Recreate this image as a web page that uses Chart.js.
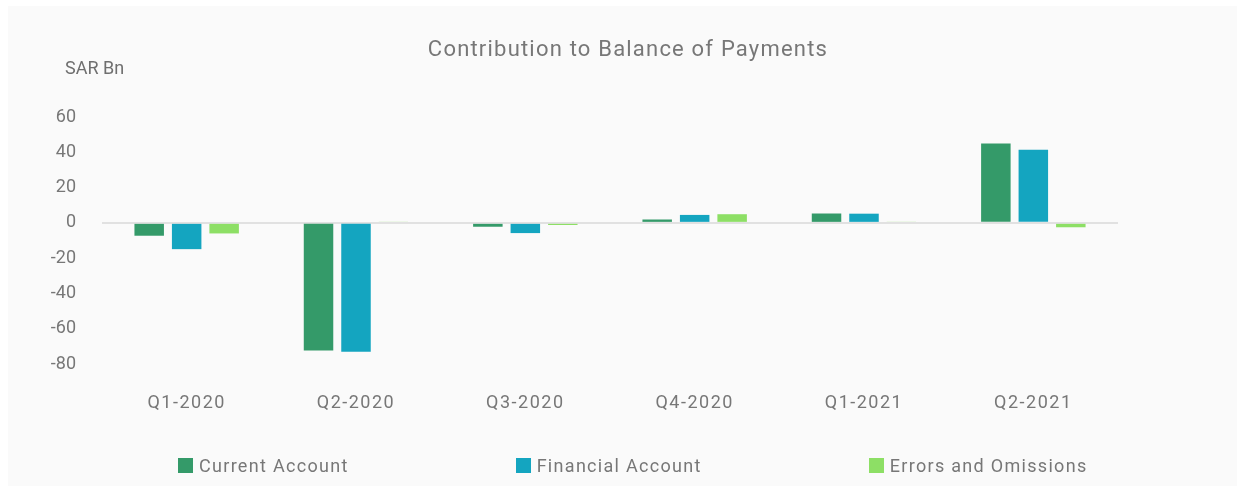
<!DOCTYPE html>
<html>
<head>
<meta charset="utf-8">
<script src="https://cdn.jsdelivr.net/npm/chart.js@4.4.0/dist/chart.umd.min.js"></script>
<style>
  html, body { margin: 0; padding: 0; background: #ffffff; }
  #wrap { position: relative; width: 1245px; height: 492px; overflow: hidden; }
  #panel { position: absolute; left: 8px; top: 6px; width: 1229px; height: 480px; background: #fafafa; }
  #c { position: absolute; left: 0; top: 0; }
  .txt { position: absolute; font-family: Roboto, "Open Sans", sans-serif; color: #777777; white-space: nowrap; }
  #title { left: 0; width: 1256px; text-align: center; top: 36px; font-size: 22px; letter-spacing: 1.2px; }
  #unit { left: 65px; top: 57px; font-size: 18px; color: #6f6f6f; }
  #legend { position: absolute; left: 178px; top: 455px; display: flex; gap: 167px; font-family: Roboto, "Open Sans", sans-serif; font-size: 18px; color: #777777; }
  .li { display: flex; align-items: center; white-space: nowrap; letter-spacing: 1.3px; }
  .sw { width: 15px; height: 15px; margin-right: 6px; }
</style>
</head>
<body>
<div id="wrap">
  <div id="panel"></div>
  <canvas id="c" width="1245" height="492"></canvas>
  <div class="txt" id="title">Contribution to Balance of Payments</div>
  <div class="txt" id="unit">SAR Bn</div>
  <div id="legend"></div>
</div>
<script>
const categories = ["Q1-2020", "Q2-2020", "Q3-2020", "Q4-2020", "Q1-2021", "Q2-2021"];
const seriesNames = ["Current Account", "Financial Account", "Errors and Omissions"];
const currentAccount = [-7.3, -72.3, -2.2, 1.9, 5.3, 45.0];
const financialAccount = [-14.9, -73.0, -5.8, 4.5, 5.2, 41.5];
const errorsOmissions = [-6.0, 0.5, -1.2, 4.9, 0.5, -2.5];
const yTicks = [60, 40, 20, 0, -20, -40, -60, -80];
const colors = ["#349a69", "#14a5c0", "#8ddf65"];

const seriesValues = [currentAccount, financialAccount, errorsOmissions];
const FONT = "Roboto, 'Open Sans', sans-serif";

const spacingPlugin = {
  id: "xLabelSpacing",
  afterUpdate(chart) {
    const s = chart.scales.x;
    if (s && !s._patched) {
      const orig = s.drawLabels.bind(s);
      s.drawLabels = function (area) {
        const ctx = this.ctx;
        ctx.save();
        ctx.letterSpacing = "1.5px";
        orig(area);
        ctx.restore();
      };
      s._patched = true;
    }
  }
};

const chart = new Chart(document.getElementById("c"), {
  type: "bar",
  data: {
    labels: categories,
    datasets: seriesNames.map((name, i) => ({
      label: name,
      data: seriesValues[i],
      backgroundColor: colors[i],
      borderWidth: 0,
      categoryPercentage: 0.664,
      barPercentage: 0.787
    }))
  },
  plugins: [spacingPlugin],
  options: {
    responsive: false,
    animation: false,
    events: [],
    layout: { padding: { left: 0, right: 127, top: 117, bottom: 78 } },
    plugins: {
      legend: { display: false },
      title: { display: false },
      tooltip: { enabled: false }
    },
    scales: {
      x: {
        grid: { display: false, drawTicks: false },
        border: { display: false },
        ticks: {
          color: "#777777",
          font: { family: FONT, size: 18 },
          padding: 29,
          maxRotation: 0
        },
        afterFit: s => { s.height = 50; }
      },
      y: {
        min: -80,
        max: 60,
        afterBuildTicks: s => { s.ticks = yTicks.map(v => ({ value: v })); },
        grid: {
          drawTicks: false,
          color: c => (c.tick && c.tick.value === 0) ? "#e1e1e1" : "rgba(0,0,0,0)",
          lineWidth: c => (c.tick && c.tick.value === 0) ? 2 : 0
        },
        border: { display: false },
        ticks: {
          color: "#777777",
          font: { family: FONT, size: 18 },
          padding: 26
        },
        afterFit: s => { s.width = 102; }
      }
    }
  }
});

const legend = document.getElementById("legend");
chart.data.datasets.forEach(ds => {
  const item = document.createElement("div");
  item.className = "li";
  const sw = document.createElement("span");
  sw.className = "sw";
  sw.style.background = ds.backgroundColor;
  const t = document.createElement("span");
  t.textContent = ds.label;
  item.appendChild(sw);
  item.appendChild(t);
  legend.appendChild(item);
});
</script>
</body>
</html>
